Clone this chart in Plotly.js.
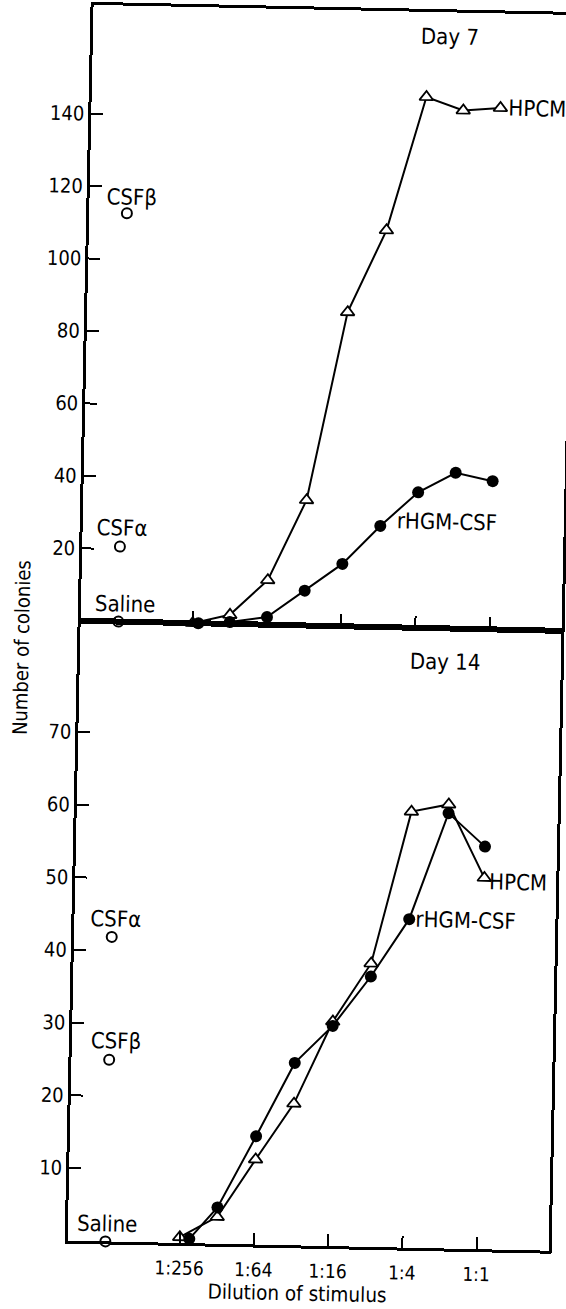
<!DOCTYPE html>
<html><head><meta charset="utf-8">
<script src="https://cdn.plot.ly/plotly-3.0.1.min.js"></script>
<style>
html,body{margin:0;padding:0;overflow:hidden;background:#fff;width:566px;height:1309px}
#chart{width:566px;height:1309px;transform:rotate(1.2deg);transform-origin:283px 654px;}
</style>
</head><body><div id="chart"></div>
<script>
// ---- data (dilution denominators, colony counts) ----
const tickDilutions = [256, 64, 16, 4, 1];
const tickLabels = ['1:256', '1:64', '1:16', '1:4', '1:1'];

const day7HpcmDil = [256, 128, 64, 32, 16, 8, 4, 2, 1];
const day7Hpcm    = [0, 2.5, 12.3, 34.6, 86.7, 109.5, 146.5, 143, 143.9];
const day7RhgmDil = [230, 128, 64, 32, 16, 8, 4, 2, 1];
const day7Rhgm    = [0, 0.5, 2.1, 9.6, 17.2, 27.9, 37.4, 43, 40.9];

const day14HpcmDil = [256, 128, 64, 32, 16, 8, 4, 2, 1];
const day14Hpcm    = [0.8, 3.7, 11.7, 19.5, 30.9, 39.0, 60.0, 61.1, 51.1];
const day14RhgmDil = [214, 128, 64, 32, 16, 8, 4, 2, 1];
const day14Rhgm    = [0.6, 5.0, 14.9, 25.1, 30.3, 37.2, 45.2, 59.9, 55.4];

const controlLabels = ['Saline', 'CSFα', 'CSFβ'];
const controlDil = 1024;
const day7Controls  = [0, 20.7, 112.7];
const day14Controls = [0, 41.9, 25.0];

// ---- build ----
const inv = a => a.map(d => 1 / d);
const FONT = 'DejaVu Sans Condensed, DejaVu Sans, sans-serif';
const lineStyle = {color: '#000', width: 2};
const triMarker = {symbol: 'triangle-up', size: 12, color: '#fff', line: {color: '#000', width: 1.8}};
const dotMarker = {symbol: 'circle', size: 12, color: '#000', line: {color: '#000', width: 0}};
const ctrlMarker = {symbol: 'circle', size: 10, color: '#fff', line: {color: '#000', width: 2}};

const traces = [
  {x: inv(day7HpcmDil), y: day7Hpcm, xaxis: 'x', yaxis: 'y', mode: 'lines+markers', line: lineStyle, marker: triMarker, name: 'HPCM', cliponaxis: false},
  {x: inv(day7RhgmDil), y: day7Rhgm, xaxis: 'x', yaxis: 'y', mode: 'lines+markers', line: lineStyle, marker: dotMarker, name: 'rHGM-CSF', cliponaxis: false},
  {x: controlLabels.map(() => 1 / controlDil), y: day7Controls, xaxis: 'x', yaxis: 'y', mode: 'markers', marker: ctrlMarker, name: 'controls', cliponaxis: false},
  {x: inv(day14HpcmDil), y: day14Hpcm, xaxis: 'x2', yaxis: 'y2', mode: 'lines+markers', line: lineStyle, marker: triMarker, name: 'HPCM', cliponaxis: false},
  {x: inv(day14RhgmDil), y: day14Rhgm, xaxis: 'x2', yaxis: 'y2', mode: 'lines+markers', line: lineStyle, marker: dotMarker, name: 'rHGM-CSF', cliponaxis: false},
  {x: controlLabels.map(() => 1 / controlDil), y: day14Controls, xaxis: 'x2', yaxis: 'y2', mode: 'markers', marker: ctrlMarker, name: 'controls', cliponaxis: false}
];

const xRange = [-3.316, 0.584];
const split = 0.5016;
const xBase = {
  type: 'log', range: xRange, tickvals: inv(tickDilutions), ticktext: tickLabels,
  ticks: 'inside', ticklen: 12, tickwidth: 2, tickcolor: '#000',
  showline: true, linewidth: 3, linecolor: '#000', mirror: true,
  showgrid: false, zeroline: false, tickfont: {family: FONT, size: 19, color: '#000'}
};
const yBase = {
  ticks: 'inside', ticklen: 12, tickwidth: 2, tickcolor: '#000',
  showline: true, linewidth: 3, linecolor: '#000', mirror: true,
  showgrid: false, zeroline: false, tickfont: {family: FONT, size: 20, color: '#000'}
};

const ctrlShift7 = [[6, 18], [2, 19], [4, 16]];
const ctrlShift14 = [[1, 18], [4, 18], [6, 19]];
const ann = [];
const txt = (o) => Object.assign({showarrow: false, font: {family: FONT, size: 22, color: '#000'}}, o);
controlLabels.forEach((lab, i) => {
  ann.push(txt({text: lab, xref: 'x', yref: 'y', x: Math.log10(1 / controlDil), y: day7Controls[i],
    xshift: ctrlShift7[i][0], yshift: ctrlShift7[i][1], xanchor: 'center', yanchor: 'middle'}));
  ann.push(txt({text: lab, xref: 'x2', yref: 'y2', x: Math.log10(1 / controlDil), y: day14Controls[i],
    xshift: ctrlShift14[i][0], yshift: ctrlShift14[i][1], xanchor: 'center', yanchor: 'middle'}));
});
const last = a => a[a.length - 1];
ann.push(txt({text: 'HPCM', xref: 'x', yref: 'y', x: Math.log10(1 / last(day7HpcmDil)), y: last(day7Hpcm), xanchor: 'left', yanchor: 'middle', xshift: 6}));
ann.push(txt({text: 'rHGM-CSF', xref: 'x', yref: 'y', x: Math.log10(1 / day7RhgmDil[5]), y: day7Rhgm[5], xanchor: 'left', yanchor: 'middle', xshift: 14, yshift: 5}));
ann.push(txt({text: 'HPCM', xref: 'x2', yref: 'y2', x: Math.log10(1 / last(day14HpcmDil)), y: last(day14Hpcm), xanchor: 'left', yanchor: 'middle', xshift: 3, yshift: -4}));
ann.push(txt({text: 'rHGM-CSF', xref: 'x2', yref: 'y2', x: Math.log10(1 / day14RhgmDil[6]), y: day14Rhgm[6], xanchor: 'left', yanchor: 'middle', xshift: 4}));
ann.push(txt({text: 'Day 7', xref: 'paper', yref: 'paper', x: 0.742, y: 0.980, xanchor: 'center', yanchor: 'middle'}));
ann.push(txt({text: 'Day 14', xref: 'paper', yref: 'paper', x: 0.759, y: 0.4747, xanchor: 'center', yanchor: 'middle'}));
ann.push(txt({text: 'Dilution of stimulus', xref: 'paper', yref: 'paper', x: 0.48, y: 0, yshift: -48, xanchor: 'center', yanchor: 'middle', font: {family: FONT, size: 20.5, color: '#000'}}));
ann.push(txt({text: 'Number of colonies', xref: 'paper', yref: 'paper', x: -0.1206, y: 0.4794, textangle: -90, xanchor: 'center', yanchor: 'middle', font: {family: FONT, size: 20, color: '#000'}}));

const layout = {
  width: 566, height: 1309,
  margin: {l: 80, r: 5, t: 9, b: 64},
  paper_bgcolor: '#fff', plot_bgcolor: '#fff', showlegend: false,
  xaxis: Object.assign({}, xBase, {anchor: 'y', showticklabels: false}),
  xaxis2: Object.assign({}, xBase, {anchor: 'y2', ticklabelstandoff: 6}),
  yaxis: Object.assign({}, yBase, {domain: [split, 1], range: [0, 170], tickvals: [20, 40, 60, 80, 100, 120, 140], anchor: 'x'}),
  yaxis2: Object.assign({}, yBase, {domain: [0, split], range: [0, 85.3], tickvals: [10, 20, 30, 40, 50, 60, 70], anchor: 'x2'}),
  annotations: ann
};
Plotly.newPlot('chart', traces, layout, {displayModeBar: false, staticPlot: true});
</script>
</body></html>
